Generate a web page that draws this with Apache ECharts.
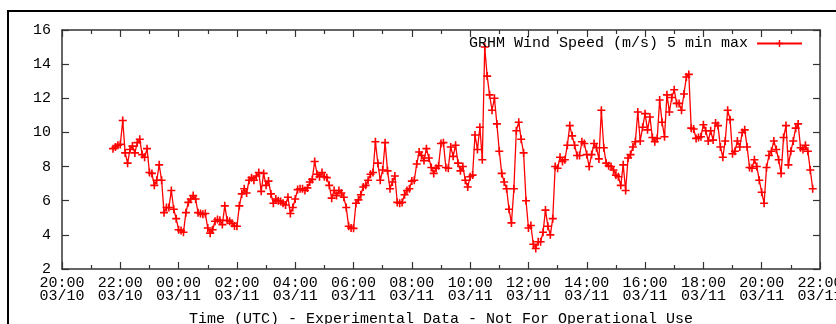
<!DOCTYPE html>
<html>
<head>
<meta charset="utf-8">
<script src="https://cdn.jsdelivr.net/npm/echarts@6/dist/echarts.min.js"></script>
<style>
  html, body { margin: 0; padding: 0; background: #fff; }
  #main { width: 836px; height: 324px; }
</style>
</head>
<body>
<div id="main"></div>
<script>
var legendName = 'GRHM Wind Speed (m/s) 5 min max';
var xTitle = 'Time (UTC) - Experimental Data - Not For Operational Use';

// x axis is hours after 20:00 03/10, one label every 2 hours
var xTickLabels = ['20:00\n03/10', '22:00\n03/10', '00:00\n03/11', '02:00\n03/11', '04:00\n03/11',
  '06:00\n03/11', '08:00\n03/11', '10:00\n03/11', '12:00\n03/11', '14:00\n03/11', '16:00\n03/11',
  '18:00\n03/11', '20:00\n03/11', '22:00\n03/11'];

var firstSampleHour = 1.75;   // 21:45 03/10
var sampleMinutes = 5;

var windSpeed = [
  9.05, 9.15, 9.25, 9.3, 10.7, 8.8, 8.2, 9.0, 9.2, 8.8,
  9.4, 9.6, 8.7, 8.55, 9.05, 7.65, 7.6, 6.9, 7.2, 8.1,
  7.2, 5.3, 5.6, 5.6, 6.6, 5.5, 4.95, 4.3, 4.25, 4.15,
  5.3, 5.9, 6.1, 6.3, 6.1, 5.3, 5.25, 5.2, 5.25, 4.4,
  4.1, 4.3, 4.8, 4.9, 4.85, 4.6, 5.7, 4.85, 4.8, 4.68,
  4.52, 4.5, 5.7, 6.4, 6.7, 6.45, 7.2, 7.35, 7.2, 7.45,
  7.65, 6.55, 7.6, 6.9, 7.15, 6.4, 5.85, 6.1, 6.0, 5.95,
  5.85, 5.75, 6.2, 5.25, 5.6, 6.1, 6.65, 6.7, 6.7, 6.6,
  6.75, 7.1, 7.25, 8.3, 7.55, 7.4, 7.65, 7.4, 7.35, 6.9,
  6.15, 6.6, 6.3, 6.6, 6.45, 6.2, 5.6, 4.5, 4.4, 4.38,
  5.85, 6.05, 6.35, 6.8, 6.9, 7.2, 7.55, 7.65, 9.45, 8.2,
  7.2, 7.8, 9.4, 7.75, 6.7, 7.1, 7.45, 5.9, 5.85, 5.9,
  6.35, 6.6, 6.7, 7.15, 7.2, 8.15, 8.85, 8.65, 8.35, 9.05,
  8.5, 7.95, 7.6, 7.9, 8.05, 9.35, 9.4, 7.95, 7.9, 9.15,
  8.6, 9.25, 8.2, 7.75, 8.0, 7.2, 6.8, 7.4, 7.5, 9.85,
  9.0, 10.3, 8.4, 15.0, 13.3, 12.2, 11.3, 12.0, 10.5, 8.9,
  7.6, 7.1, 6.7, 5.5, 4.7, 6.7, 10.1, 10.6, 9.6, 8.8,
  6.0, 4.4, 4.55, 3.45, 3.2, 3.6, 3.6, 4.15, 5.45, 4.5,
  4.0, 4.95, 8.0, 7.9, 8.55, 8.3, 8.4, 9.25, 10.4, 9.8,
  9.25, 8.65, 8.65, 9.45, 9.35, 8.7, 8.0, 8.7, 9.35, 9.1,
  8.45, 11.3, 9.1, 8.2, 8.05, 8.0, 7.8, 7.5, 7.4, 6.9,
  8.1, 6.6, 8.5, 8.7, 9.15, 9.45, 11.2, 9.5, 10.3, 11.1,
  10.15, 10.9, 9.7, 9.45, 9.65, 11.9, 10.6, 9.75, 12.2, 11.2,
  12.05, 12.5, 11.7, 11.7, 11.3, 12.25, 13.25, 13.4, 10.25, 10.2,
  9.65, 9.7, 9.75, 10.45, 10.1, 9.5, 10.1, 9.55, 10.55, 10.4,
  9.15, 8.55, 9.5, 11.3, 10.75, 8.75, 8.9, 9.5, 9.15, 10.0,
  10.15, 9.15, 7.95, 7.9, 8.4, 8.0, 7.2, 6.5, 5.85, 7.95,
  8.65, 8.9, 9.5, 9.0, 8.4, 7.6, 9.7, 10.4, 8.1, 8.9,
  9.5, 10.25, 10.5, 9.1, 9.0, 9.25, 8.9, 7.8, 6.7
];

var font = 'Liberation Mono';
var frame = '#333';

var myChart = echarts.init(document.getElementById('main'));

var points = windSpeed.map(function (v, i) {
  return [firstSampleHour + i * sampleMinutes / 60, v];
});

function xAxisBox(pos) {
  return {
    type: 'value',
    position: pos,
    min: 0,
    max: 26,
    interval: 2,
    axisLine: { show: true, onZero: false, lineStyle: { color: frame, width: 1.5 } },
    axisTick: { show: true, inside: true, length: 7, lineStyle: { color: frame, width: 1.2 } },
    minorTick: { show: true, splitNumber: 2, length: 4, lineStyle: { color: frame, width: 1.2 } },
    splitLine: { show: false },
    minorSplitLine: { show: false }
  };
}

function yAxisBox(pos) {
  return {
    type: 'value',
    position: pos,
    min: 2,
    max: 16,
    interval: 2,
    axisLine: { show: true, onZero: false, lineStyle: { color: frame, width: 1.5 } },
    axisTick: { show: true, inside: true, length: 7, lineStyle: { color: frame, width: 1.2 } },
    splitLine: { show: false }
  };
}

var xBottom = xAxisBox('bottom');
xBottom.axisLabel = {
  margin: 8,
  color: '#000',
  fontFamily: font,
  fontSize: 15,
  lineHeight: 13,
  formatter: function (value) {
    return xTickLabels[Math.round(value / 2)];
  }
};
xBottom.name = xTitle;
xBottom.nameLocation = 'middle';
xBottom.nameGap = 43;
xBottom.nameTextStyle = { color: '#000', fontFamily: font, fontSize: 15 };

var xTop = xAxisBox('top');
xTop.axisLabel = { show: false };

var yLeft = yAxisBox('left');
yLeft.axisLabel = { margin: 11, color: '#000', fontFamily: font, fontSize: 15 };

var yRight = yAxisBox('right');
yRight.axisLabel = { show: false };

myChart.setOption({
  backgroundColor: '#fff',
  animation: false,
  grid: { left: 62, top: 30, right: 16, bottom: 55, containLabel: false, outerBoundsMode: 'none' },
  graphic: [{
    type: 'rect',
    shape: { x: 8, y: 11, width: 900, height: 400 },
    style: { fill: 'none', stroke: '#000', lineWidth: 2 },
    silent: true
  }],
  legend: {
    data: [legendName],
    right: 33,
    top: 36,
    align: 'right',
    padding: 0,
    itemWidth: 45,
    itemHeight: 9,
    textStyle: { color: '#000', fontFamily: font, fontSize: 15, padding: [0, 4, 0, 0] }
  },
  xAxis: [xBottom, xTop],
  yAxis: [yLeft, yRight],
  series: [{
    name: legendName,
    type: 'line',
    xAxisIndex: 0,
    yAxisIndex: 0,
    data: points,
    symbol: 'path://M4,0H6V4H10V6H6V10H4V6H0V4H4Z',
    symbolSize: 8,
    showAllSymbol: true,
    lineStyle: { color: '#ff0000', width: 1.3 },
    itemStyle: { color: '#ff0000' }
  }]
});
</script>
</body>
</html>
